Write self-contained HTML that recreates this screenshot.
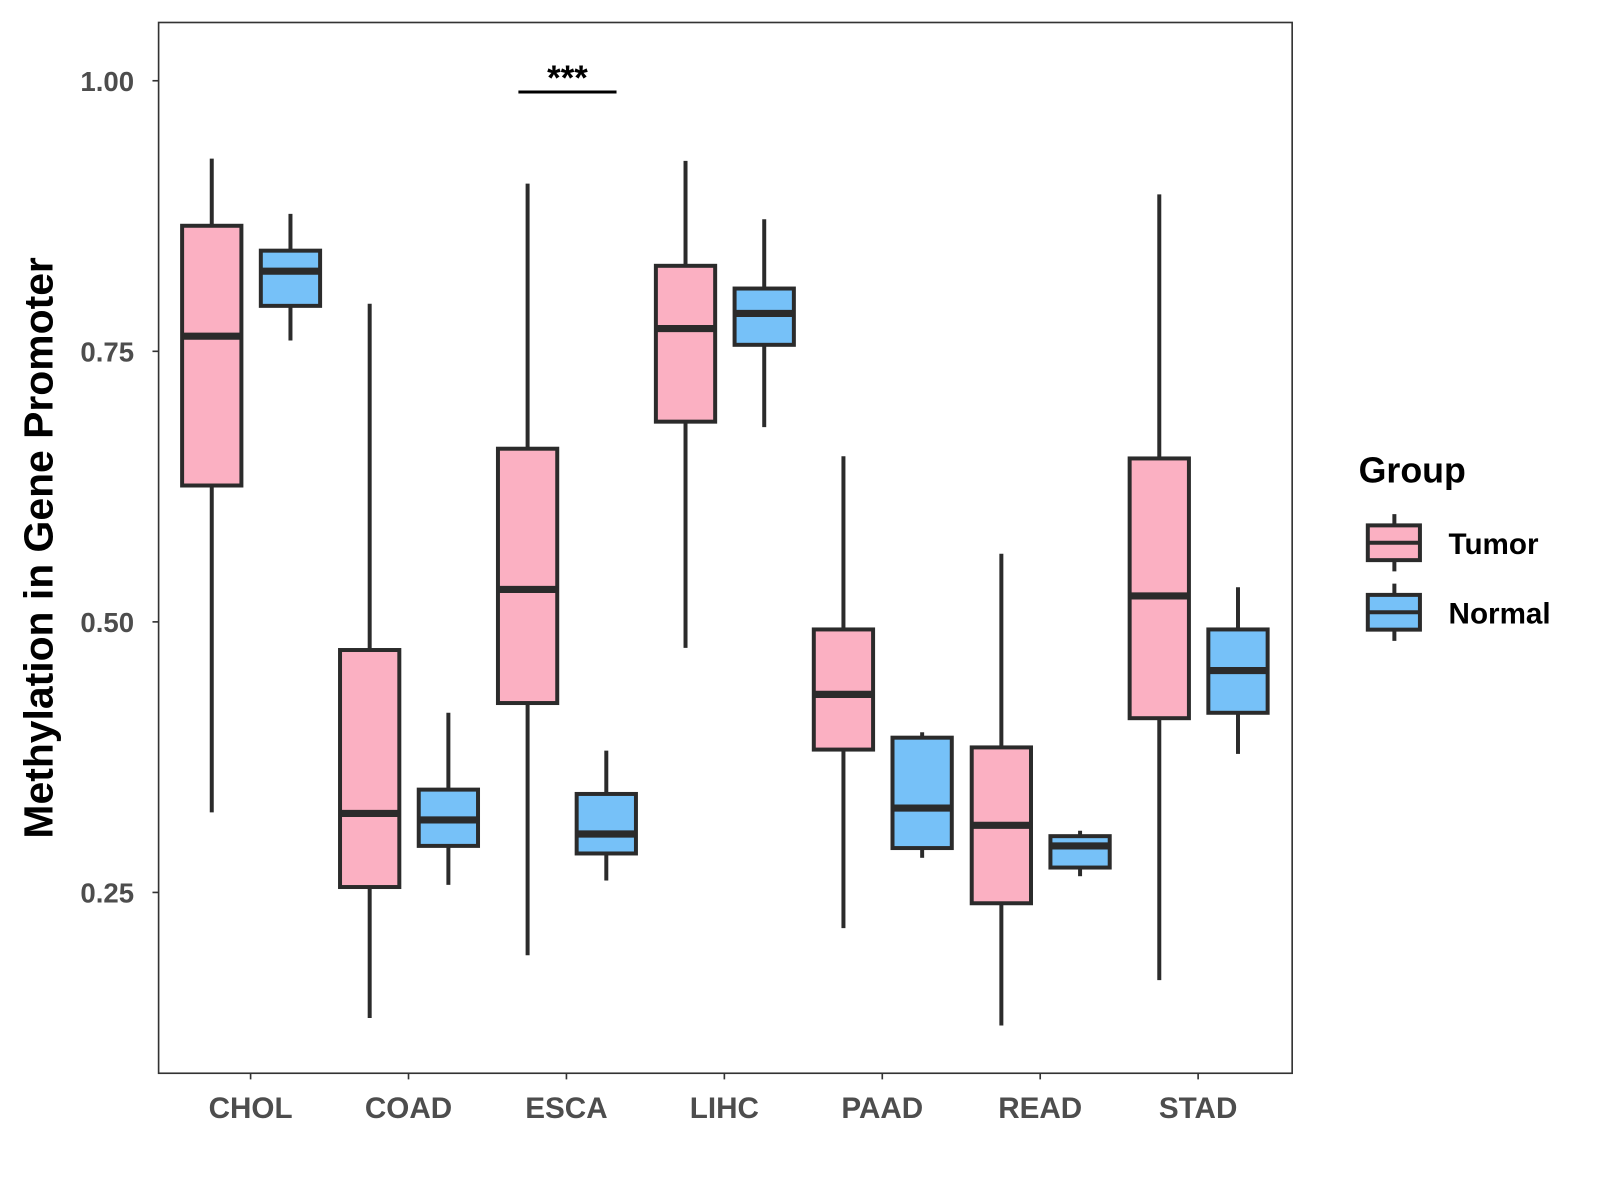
<!DOCTYPE html>
<html><head><meta charset="utf-8"><style>
html,body{margin:0;padding:0;background:#fff;}
svg{display:block;font-family:"Liberation Sans",Arial,sans-serif;}
</style></head><body>
<svg id="chart" width="1600" height="1200" viewBox="0 0 1565 1174" xmlns="http://www.w3.org/2000/svg">
<rect x="0" y="0" width="1565" height="1174" fill="#fff"/>
<g id="plot"></g>
<rect x="155" y="22" width="1109" height="1028" fill="none" stroke="#333" stroke-width="1.6"/>
<text transform="translate(51,536) rotate(-90)" text-anchor="middle" font-size="40" font-weight="bold" fill="#000">Methylation in Gene Promoter</text>
<g>
<line x1="507" x2="603" y1="90" y2="90" stroke="#000" stroke-width="3"/>
<text x="555" y="88" text-anchor="middle" font-size="34" font-weight="bold" fill="#000">***</text>
</g>
<g>
<text x="1329" y="472" font-size="35" font-weight="bold" fill="#000">Group</text>
<g>
<line x1="1364" x2="1364" y1="503" y2="559" stroke="#2b2b2b" stroke-width="3.9"/>
<rect x="1338" y="514" width="51" height="34" fill="#FBB0C2" stroke="#2b2b2b" stroke-width="3.9"/>
<line x1="1338" x2="1389" y1="531" y2="531" stroke="#2b2b2b" stroke-width="3.9"/>
<text x="1417" y="542" font-size="29" font-weight="bold" fill="#000">Tumor</text>
</g>
<g>
<line x1="1364" x2="1364" y1="571" y2="627" stroke="#2b2b2b" stroke-width="3.9"/>
<rect x="1338" y="582" width="51" height="34" fill="#76C1F8" stroke="#2b2b2b" stroke-width="3.9"/>
<line x1="1338" x2="1389" y1="599" y2="599" stroke="#2b2b2b" stroke-width="3.9"/>
<text x="1417" y="610" font-size="29" font-weight="bold" fill="#000">Normal</text>
</g>
</g>
</svg>
<script>
const categories = ["CHOL","COAD","ESCA","LIHC","PAAD","READ","STAD"];
const tumorLow    = [0.324,0.134,0.192,0.476,0.217,0.127,0.169];
const tumorQ1     = [0.626,0.255,0.425,0.685,0.382,0.240,0.411];
const tumorMedian = [0.764,0.323,0.530,0.771,0.433,0.312,0.524];
const tumorQ3     = [0.866,0.474,0.660,0.829,0.493,0.384,0.651];
const tumorHigh   = [0.928,0.794,0.905,0.926,0.653,0.563,0.895];
const normalLow    = [0.760,0.257,0.261,0.680,0.282,0.265,0.378];
const normalQ1     = [0.792,0.293,0.286,0.756,0.291,0.273,0.416];
const normalMedian = [0.824,0.317,0.304,0.785,0.328,0.293,0.455];
const normalQ3     = [0.843,0.345,0.341,0.808,0.393,0.302,0.493];
const normalHigh   = [0.877,0.416,0.381,0.872,0.398,0.307,0.532];
const yTicks = [0.25,0.50,0.75,1.00];
const yTickLabels = ["0.25","0.50","0.75","1.00"];

const NS="http://www.w3.org/2000/svg";
const g=document.getElementById('plot');
function y(v){return 79+(1-v)*1058.8;}
function xc(i){return 245+i*154.5;}
function mk(t,a,p){const e=document.createElementNS(NS,t);for(const k in a)e.setAttribute(k,a[k]);(p||g).appendChild(e);return e;}

yTicks.forEach((v,i)=>{
  const t=mk('line',{x1:149,x2:155,y1:y(v),y2:y(v),stroke:'#333','stroke-width':1.6});
  
  
  const l=mk('text',{x:131,y:y(v)+10,'text-anchor':'end','font-size':27,'font-weight':'bold',fill:'#4d4d4d'});
  l.textContent=yTickLabels[i];
  
  
});
categories.forEach((c,i)=>{
  const t=mk('line',{x1:xc(i),x2:xc(i),y1:1050,y2:1056,stroke:'#333','stroke-width':1.6});
  
  
  const l=mk('text',{x:xc(i),y:1094,'text-anchor':'middle','font-size':29,'font-weight':'bold',fill:'#4d4d4d'});
  l.textContent=c;
  
  
});
function box(cx,lo,q1,md,q3,hi,fill,name){
  const bg=mk('g',{});
  
  
  const s={stroke:'#2b2b2b','stroke-width':3.9};
  mk('line',Object.assign({x1:cx,x2:cx,y1:y(hi),y2:y(q3)},s),bg);
  mk('line',Object.assign({x1:cx,x2:cx,y1:y(q1),y2:y(lo)},s),bg);
  mk('rect',Object.assign({x:cx-29,y:y(q3),width:58,height:y(q1)-y(q3),fill:fill},s),bg);
  mk('line',{x1:cx-29,x2:cx+29,y1:y(md),y2:y(md),stroke:'#2b2b2b','stroke-width':7},bg);
}
categories.forEach((c,i)=>{
  box(xc(i)-38,tumorLow[i],tumorQ1[i],tumorMedian[i],tumorQ3[i],tumorHigh[i],'#FBB0C2','box-tumor-'+c.toLowerCase());
  box(xc(i)+39,normalLow[i],normalQ1[i],normalMedian[i],normalQ3[i],normalHigh[i],'#76C1F8','box-normal-'+c.toLowerCase());
});
</script>
</body></html>
